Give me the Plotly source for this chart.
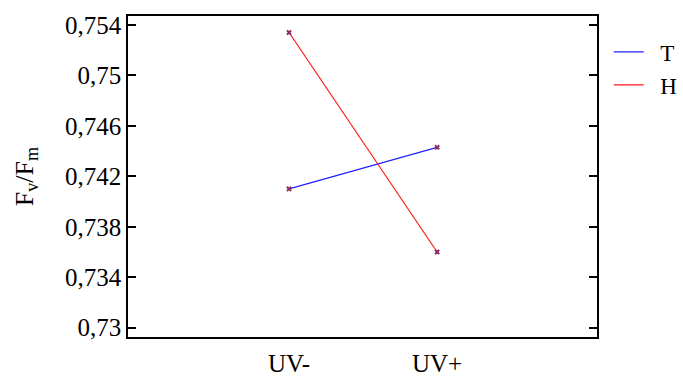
import plotly.graph_objects as go

# Treatment levels and F_v/F_m means for each cultivar
categories = ["UV-", "UV+"]
series_names = ["T", "H"]
t_values = [0.7410, 0.7443]
h_values = [0.7534, 0.7360]

y_tickvals = [0.73, 0.734, 0.738, 0.742, 0.746, 0.75, 0.754]
y_ticktext = ["0,73", "0,734", "0,738", "0,742", "0,746", "0,75", "0,754"]

font_family = "Liberation Serif"
marker_style = dict(symbol="x", size=5, color="#8e2a63", line=dict(width=0))
pad = "\u00a0\u00a0"  # extra gap between legend line and label

fig = go.Figure()
for name, vals, col in zip(series_names, (t_values, h_values), ("#2020ff", "#ff1a1a")):
    fig.add_trace(go.Scatter(
        x=[0, 1], y=vals, name=pad + name, mode="lines",
        line=dict(color=col, width=1.2),
    ))
for vals in (t_values, h_values):
    fig.add_trace(go.Scatter(
        x=[0, 1], y=vals, mode="markers", marker=marker_style,
        showlegend=False, hoverinfo="skip",
    ))

fig.update_layout(
    width=683, height=378,
    margin=dict(l=128, r=86, t=16, b=41, autoexpand=False),
    plot_bgcolor="white", paper_bgcolor="white",
    font=dict(family=font_family, size=25, color="black"),
    showlegend=True,
    legend=dict(x=1.025, y=0.955, xanchor="left", yanchor="top",
                font=dict(family=font_family, size=23),
                bgcolor="rgba(0,0,0,0)", tracegroupgap=0, itemwidth=30),
    xaxis=dict(
        range=[-1.088, 2.08], tickvals=[0, 1], ticktext=categories,
        showline=True, mirror=True, linecolor="black", linewidth=1.5,
        ticks="", showgrid=False, zeroline=False, ticklabelstandoff=3,
        automargin=False, tickfont=dict(family=font_family, size=25),
    ),
    yaxis=dict(
        range=[0.72926, 0.75471], tickvals=y_tickvals, ticktext=y_ticktext,
        showline=True, mirror="ticks", linecolor="black", linewidth=1.5,
        ticks="inside", ticklen=8, tickwidth=1.5, tickcolor="black",
        showgrid=False, zeroline=False, automargin=False,
        tickfont=dict(family=font_family, size=25),
        title=dict(text="F<sub>v</sub>/F<sub>m</sub>", standoff=24,
                   font=dict(family=font_family, size=26)),
    ),
)

fig.write_html("out.html")
